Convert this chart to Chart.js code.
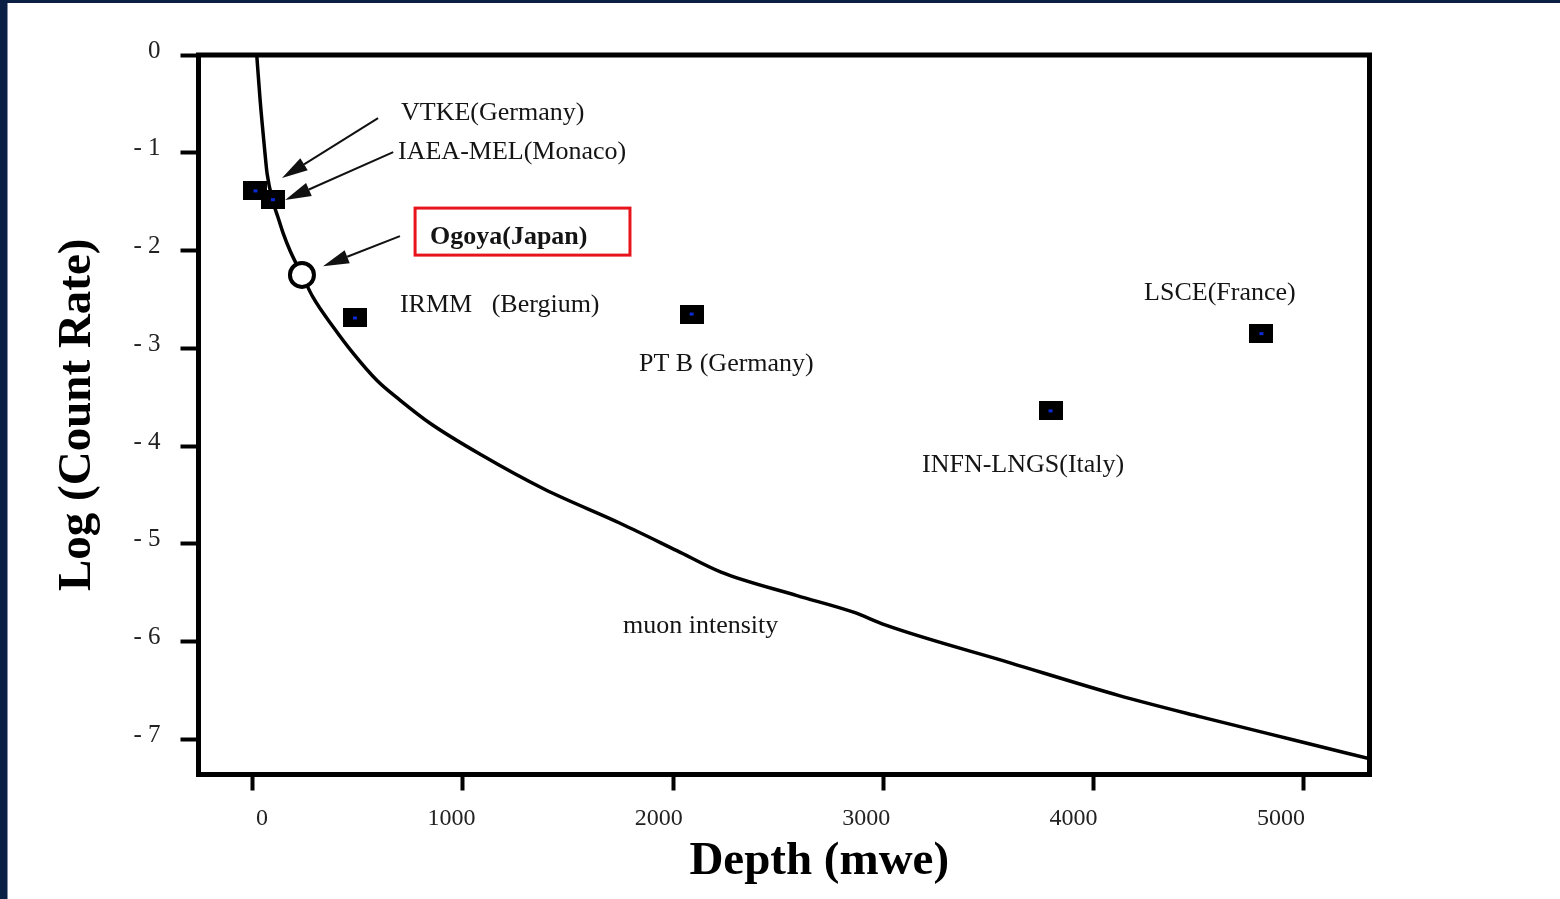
<!DOCTYPE html>
<html>
<head>
<meta charset="utf-8">
<script src="https://cdn.jsdelivr.net/npm/chart.js@4.4.1/dist/chart.umd.min.js"></script>
<style>
html,body{margin:0;padding:0;background:#fff;overflow:hidden}
canvas{display:block}
</style>
</head>
<body>
<canvas id="c" width="1560" height="899"></canvas>
<script>
// ---- data ----
const muonDepth = [20, 36, 59, 69, 97, 121, 145, 178, 235, 288, 383, 478, 592, 701, 846, 1087, 1386, 1748, 2018, 2228, 2589, 2858, 3008, 3607, 4118, 4509, 4957, 5314];
const muonLog   = [0, -0.46, -1.0, -1.21, -1.5, -1.66, -1.82, -2.0, -2.25, -2.48, -2.78, -3.05, -3.33, -3.53, -3.77, -4.09, -4.44, -4.79, -5.07, -5.29, -5.53, -5.70, -5.83, -6.22, -6.55, -6.77, -7.01, -7.20];

const labNames = ['VTKE(Germany)', 'IAEA-MEL(Monaco)', 'IRMM   (Bergium)', 'PT B (Germany)', 'INFN-LNGS(Italy)', 'LSCE(France)'];
const labDepth = [14, 97, 487, 2088, 3795, 4798];
const labLog   = [-1.39, -1.48, -2.69, -2.65, -3.64, -2.85];

const ogoyaName  = ['Ogoya(Japan)'];
const ogoyaDepth = [235];
const ogoyaLog   = [-2.25];

const curveName = ['muon intensity'];

const xTickValues = [0, 1000, 2000, 3000, 4000, 5000];
const xTickLabels = ['0', '1000', '2000', '3000', '4000', '5000'];
const yTickValues = [0, -1, -2, -3, -4, -5, -6, -7];
const yTickLabels = ['0', '- 1', '- 2', '- 3', '- 4', '- 5', '- 6', '- 7'];

const xTitle = 'Depth (mwe)';
const yTitle = 'Log (Count Rate)';

// ---- styling / placement (not data) ----
const SERIF = "'Liberation Serif', 'Times New Roman', serif";
const NAVY = '#0a1f44';

// annotation placement in data units
const textPlacement = [
  { text: labNames[0], x: 706,  y: -0.594 },
  { text: labNames[1], x: 692,  y: -0.993 },
  { text: labNames[2], x: 701,  y: -2.559 },
  { text: labNames[3], x: 1838, y: -3.163 },
  { text: labNames[4], x: 3184, y: -4.197 },
  { text: labNames[5], x: 4240, y: -2.436 },
  { text: curveName[0], x: 1762, y: -5.844 },
  { text: ogoyaName[0], x: 844, y: -1.863, bold: true }
];
const highlightBox = { x1: 773, x2: 1795, y1: -1.566, y2: -2.047 };
const arrowPlacement = [
  { x1: 597, y1: -0.645, x2: 140, y2: -1.259 },
  { x1: 669, y1: -0.993, x2: 155, y2: -1.484 },
  { x1: 701, y1: -1.853, x2: 335, y2: -2.160 }
];

function makeSquare() {
  const c = document.createElement('canvas');
  c.width = 24; c.height = 19;
  const g = c.getContext('2d');
  g.fillStyle = '#000';
  g.fillRect(0, 0, 24, 19);
  g.fillStyle = '#0b2bd6';
  g.fillRect(10, 8, 4, 3);
  return c;
}
const squareStyle = makeSquare();

const decor = {
  id: 'decor',
  beforeDraw(chart) {
    const c = chart.ctx;
    c.save();
    c.fillStyle = '#fff';
    c.fillRect(0, 0, chart.width, chart.height);
    c.fillStyle = NAVY;
    c.fillRect(0, 0, chart.width, 3);
    c.fillRect(0, 0, 7.5, chart.height);
    c.restore();
  },
  afterDatasetsDraw(chart) {
    const c = chart.ctx;
    const xs = chart.scales.x, ys = chart.scales.y;
    const ca = chart.chartArea;
    c.save();
    // frame
    c.strokeStyle = '#000';
    c.lineWidth = 5;
    c.lineJoin = 'miter';
    c.strokeRect(ca.left, ca.top, ca.right - ca.left, ca.bottom - ca.top);
    // arrows
    c.lineWidth = 2;
    c.fillStyle = '#111';
    c.strokeStyle = '#111';
    arrowPlacement.forEach(a => {
      const x1 = xs.getPixelForValue(a.x1), y1 = ys.getPixelForValue(a.y1);
      const x2 = xs.getPixelForValue(a.x2), y2 = ys.getPixelForValue(a.y2);
      const ang = Math.atan2(y2 - y1, x2 - x1);
      const L = 26, W = 7;
      const bx = x2 - L * Math.cos(ang), by = y2 - L * Math.sin(ang);
      c.beginPath();
      c.moveTo(x1, y1);
      c.lineTo(bx, by);
      c.stroke();
      c.beginPath();
      c.moveTo(x2, y2);
      c.lineTo(bx + W * Math.sin(ang), by - W * Math.cos(ang));
      c.lineTo(bx - W * Math.sin(ang), by + W * Math.cos(ang));
      c.closePath();
      c.fill();
    });
    // texts
    c.textBaseline = 'middle';
    c.textAlign = 'left';
    c.fillStyle = '#141414';
    textPlacement.forEach(t => {
      c.font = (t.bold ? 'bold ' : '') + '26px ' + SERIF;
      c.fillText(t.text, xs.getPixelForValue(t.x), ys.getPixelForValue(t.y));
    });
    // highlight box
    c.strokeStyle = 'rgb(232,20,28)';
    c.lineWidth = 3;
    const bx1 = xs.getPixelForValue(highlightBox.x1), bx2 = xs.getPixelForValue(highlightBox.x2);
    const by1 = ys.getPixelForValue(highlightBox.y1), by2 = ys.getPixelForValue(highlightBox.y2);
    c.strokeRect(bx1, by1, bx2 - bx1, by2 - by1);
    c.restore();
  }
};

new Chart(document.getElementById('c'), {
  type: 'scatter',
  data: {
    datasets: [
      {
        label: ogoyaName[0],
        data: ogoyaDepth.map((x, i) => ({ x, y: ogoyaLog[i] })),
        pointStyle: 'circle',
        pointRadius: 12,
        pointBorderWidth: 4,
        pointBackgroundColor: '#fff',
        pointBorderColor: '#000'
      },
      {
        label: 'labs',
        data: labDepth.map((x, i) => ({ x, y: labLog[i] })),
        pointStyle: squareStyle,
        pointRadius: 10
      },
      {
        type: 'line',
        label: curveName[0],
        data: muonDepth.map((x, i) => ({ x, y: muonLog[i] })),
        borderColor: '#000',
        borderWidth: 3.5,
        pointRadius: 0,
        fill: false,
        showLine: true,
        cubicInterpolationMode: 'monotone'
      }
    ]
  },
  options: {
    responsive: false,
    animation: false,
    devicePixelRatio: 1,
    layout: { padding: { top: 55, right: 190.5, bottom: 0, left: 0 } },
    plugins: { legend: { display: false }, tooltip: { enabled: false } },
    scales: {
      x: {
        type: 'linear',
        position: 'bottom',
        min: -257,
        max: 5312,
        afterBuildTicks: s => { s.ticks = xTickValues.map(v => ({ value: v })); },
        afterFit: s => { s.height = 16; },
        grid: { display: true, drawOnChartArea: false, drawTicks: true, tickLength: 16, tickWidth: 4, tickColor: '#000' },
        border: { display: false },
        ticks: { display: false }
      },
      xl: {
        type: 'linear',
        position: 'bottom',
        weight: 1,
        min: -335,
        max: 5311,
        afterBuildTicks: s => { s.ticks = xTickValues.map(v => ({ value: v })); },
        afterFit: s => { s.height = 108.5; },
        grid: { display: false, drawTicks: false },
        border: { display: false },
        ticks: {
          align: 'end',
          padding: 13.6,
          maxRotation: 0,
          autoSkip: false,
          color: '#222',
          font: { family: SERIF, size: 24 },
          callback: (v) => xTickLabels[xTickValues.indexOf(v)]
        },
        title: {
          display: true,
          text: '      ' + xTitle,
          color: '#000',
          font: { family: SERIF, size: 47, weight: 'bold' },
          padding: { top: 0, bottom: 9 }
        }
      },
      y: {
        type: 'linear',
        position: 'left',
        min: -7.36,
        max: 0,
        afterBuildTicks: s => { s.ticks = yTickValues.map(v => ({ value: v })); },
        afterFit: s => { s.width = 198.5; },
        grid: { display: true, drawOnChartArea: false, drawTicks: true, tickLength: 18, tickWidth: 4, tickColor: '#000' },
        border: { display: false },
        ticks: {
          padding: 20,
          labelOffset: -4,
          autoSkip: false,
          color: '#222',
          font: { family: SERIF, size: 25 },
          callback: (v) => yTickLabels[yTickValues.indexOf(v)]
        },
        title: {
          display: true,
          text: yTitle,
          color: '#000',
          font: { family: SERIF, size: 47, weight: 'bold' },
          padding: { top: 50, bottom: 0 }
        }
      }
    }
  },
  plugins: [decor]
});
</script>
</body>
</html>
